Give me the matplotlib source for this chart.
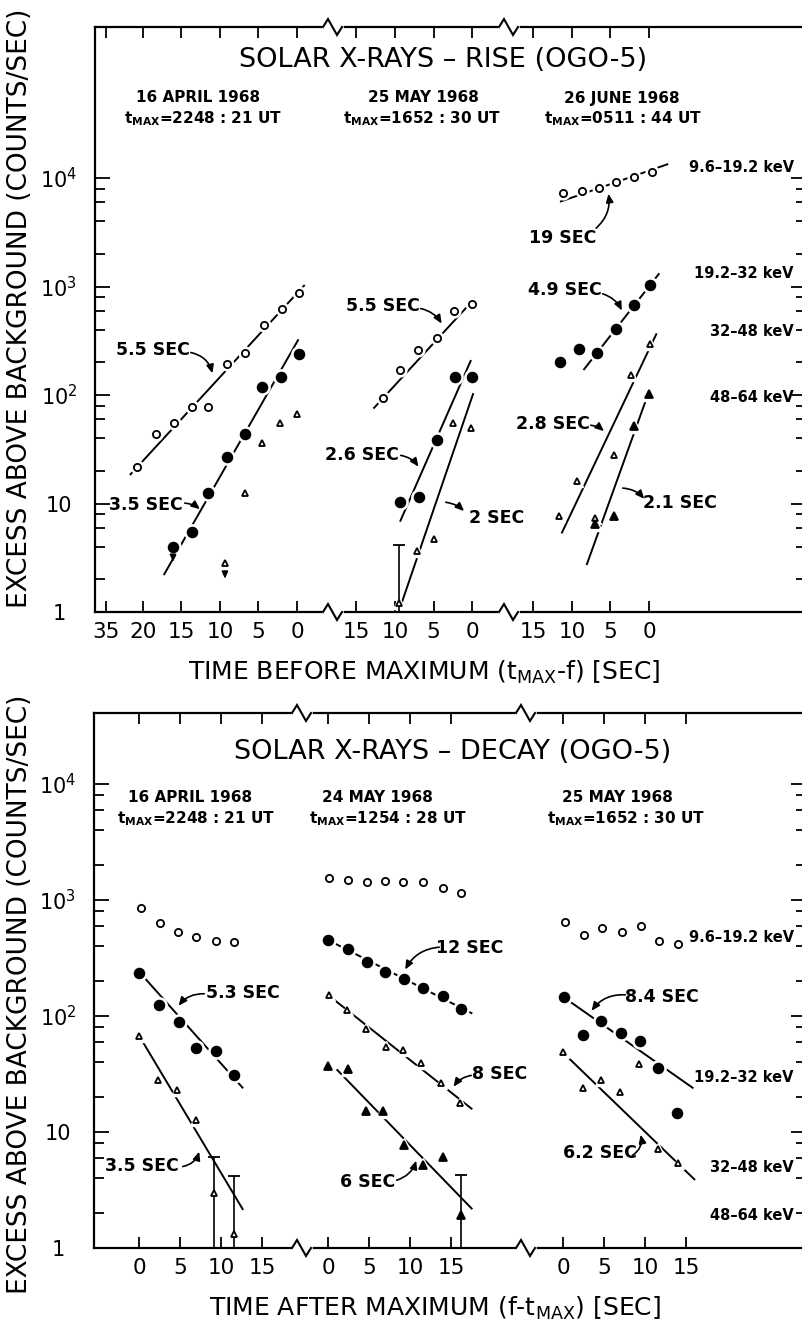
import matplotlib
matplotlib.use("Agg")
import matplotlib.pyplot as plt
from matplotlib.lines import Line2D
from matplotlib.patches import FancyArrowPatch
from matplotlib.ticker import FixedLocator, NullFormatter
from matplotlib.transforms import IdentityTransform, offset_copy

W, H = 803, 1327

# channel keys: c1 = 9.6-19.2 keV (open circle), c2 = 19.2-32 keV (filled circle),
#               c3 = 32-48 keV (open triangle), c4 = 48-64 keV (filled triangle)

# ---------------- RISE (t = seconds before maximum) ----------------
rise_apr16_c1_t = [20.8, 18.3, 16.0, 13.6, 11.5, 9.1, 6.7, 4.3, 2.0, -0.3]
rise_apr16_c1 = [21.6, 43.7, 55.6, 78, 78, 193, 242, 442, 621, 865]
rise_apr16_c2_t = [16.1, 13.6, 11.5, 9.1, 6.75, 4.5, 2.1, -0.2]
rise_apr16_c2 = [4.0, 5.5, 12.4, 27, 43.4, 119, 147, 239]
rise_apr16_c3_t = [9.35, 6.75, 4.5, 2.2, 0.0]
rise_apr16_c3 = [2.8, 12.6, 36.4, 54.8, 66.4]
rise_apr16_fit_c1_t = [21.7, -1.0]
rise_apr16_fit_c1 = [18.3, 1033]
rise_apr16_fit_c2_t = [17.3, -0.2]
rise_apr16_fit_c2 = [2.19, 326]

rise_may25_c1_t = [11.5, 9.35, 7.0, 4.6, 2.3, 0.0]
rise_may25_c1 = [94.5, 170, 260, 333, 595, 690]
rise_may25_c2_t = [9.3, 6.85, 4.6, 2.2, 0.0]
rise_may25_c2 = [10.4, 11.5, 38.5, 146, 147]
rise_may25_c3_t = [9.45, 7.2, 4.95, 2.5, 0.1]
rise_may25_c3 = [1.2, 3.67, 4.68, 54.8, 49.3]
rise_may25_err_t = [9.45]
rise_may25_err_hi = [4.15]
rise_may25_fit_c1_t = [12.8, -0.4]
rise_may25_fit_c1 = [75, 783]
rise_may25_fit_c2_t = [9.35, 0.13]
rise_may25_fit_c2 = [6.8, 210]
rise_may25_fit_c3_t = [9.45, -0.17]
rise_may25_fit_c3 = [1.04, 104]

rise_jun26_c1_t = [11.2, 8.75, 6.5, 4.3, 1.95, -0.35]
rise_jun26_c1 = [7320, 7540, 8040, 9250, 10150, 11290]
rise_jun26_c2_t = [11.55, 9.1, 6.7, 4.3, 1.95, -0.2]
rise_jun26_c2 = [203, 266, 245, 406, 675, 1032]
rise_jun26_c3_t = [11.65, 9.4, 7.0, 4.55, 2.35, -0.1]
rise_jun26_c3 = [7.7, 16.1, 7.3, 28, 153, 295]
rise_jun26_c4_t = [7.0, 4.55, 1.95, 0.0]
rise_jun26_c4 = [6.5, 7.7, 51.8, 102]
rise_jun26_fit_c1_t = [11.55, -2.5]
rise_jun26_fit_c1 = [6050, 13460]
rise_jun26_fit_c2_t = [8.5, -1.35]
rise_jun26_fit_c2 = [170, 1324]
rise_jun26_fit_c3_t = [11.35, -1.0]
rise_jun26_fit_c3 = [5.3, 370]
rise_jun26_fit_c4_t = [8.1, -0.15]
rise_jun26_fit_c4 = [2.71, 115]

# ---------------- DECAY (t = seconds after maximum) ----------------
decay_apr16_c1_t = [0.25, 2.5, 4.8, 6.95, 9.4, 11.6]
decay_apr16_c1 = [859, 637, 527, 477, 443, 437]
decay_apr16_c2_t = [0.05, 2.45, 4.9, 7.0, 9.35, 11.6]
decay_apr16_c2 = [233, 124, 89, 53, 50, 31]
decay_apr16_c3_t = [0.05, 2.3, 4.6, 6.95, 9.2, 11.6]
decay_apr16_c3 = [67, 28, 23, 12.7, 3.0, 1.32]
decay_apr16_err_t = [9.2, 11.6]
decay_apr16_err_hi = [6.05, 4.2]
decay_apr16_fit_c2_t = [0.73, 12.7]
decay_apr16_fit_c2 = [211, 23.8]
decay_apr16_fit_c3_t = [0.33, 12.7]
decay_apr16_fit_c3 = [62, 2.13]

decay_may24_c1_t = [0.15, 2.5, 4.8, 6.95, 9.2, 11.6, 14.0, 16.2]
decay_may24_c1 = [1557, 1487, 1421, 1459, 1421, 1421, 1277, 1142]
decay_may24_c2_t = [0.05, 2.5, 4.8, 6.95, 9.3, 11.6, 14.0, 16.2]
decay_may24_c2 = [452, 376, 294, 241, 208, 173, 149, 114]
decay_may24_c3_t = [0.15, 2.35, 4.65, 7.05, 9.2, 11.4, 13.8, 16.1]
decay_may24_c3 = [152, 113, 77, 54, 51, 39.6, 26.3, 17.7]
decay_may24_c4_t = [0.05, 2.5, 4.65, 6.75, 9.3, 11.6, 14.0, 16.2]
decay_may24_c4 = [37, 34.7, 15.3, 15.3, 7.7, 5.2, 6.1, 1.92]
decay_may24_err_t = [16.2]
decay_may24_err_hi = [4.26]
decay_may24_fit_c2_t = [0.0, 17.6]
decay_may24_fit_c2 = [452, 105]
decay_may24_fit_c3_t = [0.0, 17.6]
decay_may24_fit_c3 = [152, 15.7]
decay_may24_fit_c4_t = [1.05, 17.6]
decay_may24_fit_c4 = [34.7, 2.16]

decay_may25_c1_t = [0.25, 2.55, 4.7, 7.25, 9.5, 11.75, 14.05]
decay_may25_c1 = [650, 499, 570, 527, 597, 443, 418]
decay_may25_c2_t = [0.1, 2.5, 4.65, 7.05, 9.4, 11.6, 13.9]
decay_may25_c2 = [145, 68.6, 91, 71.8, 60.9, 35.4, 14.5]
decay_may25_c3_t = [0.0, 2.4, 4.6, 6.95, 9.3, 11.6, 14.05]
decay_may25_c3 = [49, 23.8, 28, 22.3, 38.6, 7.1, 5.4]
decay_may25_fit_c2_t = [0.85, 15.9]
decay_may25_fit_c2 = [133, 23.8]
decay_may25_fit_c3_t = [0.75, 16.1]
decay_may25_fit_c3 = [43, 3.86]

rise_ticks = [[24.8, 20, 15, 10, 5, 0], [15, 10, 5, 0], [15, 10, 5, 0]]
rise_ticklabels = [["35", "20", "15", "10", "5", "0"], ["15", "10", "5", "0"], ["15", "10", "5", "0"]]
decay_ticks = [[0, 5, 10, 15]] * 3
decay_ticklabels = [["0", "5", "10", "15"]] * 3

y_major = [1, 10, 100, 1e3, 1e4]
y_major_labels = ["1", "10", r"$10^2$", r"$10^3$", r"$10^4$"]
y_minor = [k * 10 ** d for d in range(4) for k in (2, 4, 6, 8)]

rise_events = [
    dict(series=[("c1", rise_apr16_c1_t, rise_apr16_c1), ("c2", rise_apr16_c2_t, rise_apr16_c2),
                 ("c3", rise_apr16_c3_t, rise_apr16_c3)],
         fits=[(rise_apr16_fit_c1_t, rise_apr16_fit_c1), (rise_apr16_fit_c2_t, rise_apr16_fit_c2)],
         limits=[("c2", 0), ("c3", 0)], errs=([], [])),
    dict(series=[("c1", rise_may25_c1_t, rise_may25_c1), ("c2", rise_may25_c2_t, rise_may25_c2),
                 ("c3", rise_may25_c3_t, rise_may25_c3)],
         fits=[(rise_may25_fit_c1_t, rise_may25_fit_c1), (rise_may25_fit_c2_t, rise_may25_fit_c2),
               (rise_may25_fit_c3_t, rise_may25_fit_c3)],
         limits=[], errs=(rise_may25_err_t, rise_may25_err_hi)),
    dict(series=[("c1", rise_jun26_c1_t, rise_jun26_c1), ("c2", rise_jun26_c2_t, rise_jun26_c2),
                 ("c3", rise_jun26_c3_t, rise_jun26_c3), ("c4", rise_jun26_c4_t, rise_jun26_c4)],
         fits=[(rise_jun26_fit_c1_t, rise_jun26_fit_c1), (rise_jun26_fit_c2_t, rise_jun26_fit_c2),
               (rise_jun26_fit_c3_t, rise_jun26_fit_c3), (rise_jun26_fit_c4_t, rise_jun26_fit_c4)],
         limits=[], errs=([], [])),
]
decay_events = [
    dict(series=[("c1", decay_apr16_c1_t, decay_apr16_c1), ("c2", decay_apr16_c2_t, decay_apr16_c2),
                 ("c3", decay_apr16_c3_t, decay_apr16_c3)],
         fits=[(decay_apr16_fit_c2_t, decay_apr16_fit_c2), (decay_apr16_fit_c3_t, decay_apr16_fit_c3)],
         limits=[], errs=(decay_apr16_err_t, decay_apr16_err_hi)),
    dict(series=[("c1", decay_may24_c1_t, decay_may24_c1), ("c2", decay_may24_c2_t, decay_may24_c2),
                 ("c3", decay_may24_c3_t, decay_may24_c3), ("c4", decay_may24_c4_t, decay_may24_c4)],
         fits=[(decay_may24_fit_c2_t, decay_may24_fit_c2), (decay_may24_fit_c3_t, decay_may24_fit_c3),
               (decay_may24_fit_c4_t, decay_may24_fit_c4)],
         limits=[], errs=(decay_may24_err_t, decay_may24_err_hi)),
    dict(series=[("c1", decay_may25_c1_t, decay_may25_c1), ("c2", decay_may25_c2_t, decay_may25_c2),
                 ("c3", decay_may25_c3_t, decay_may25_c3)],
         fits=[(decay_may25_fit_c2_t, decay_may25_fit_c2), (decay_may25_fit_c3_t, decay_may25_fit_c3)],
         limits=[], errs=([], [])),
]

MARK = {
    "c1": dict(marker="o", ms=5.2, mfc="white"),
    "c2": dict(marker="o", ms=7.0, mfc="black"),
    "c3": dict(marker="^", ms=5.0, mfc="white"),
    "c4": dict(marker="^", ms=6.2, mfc="black"),
}

plt.rcParams["font.family"] = "DejaVu Sans"
plt.rcParams["mathtext.fontset"] = "dejavusans"

fig = plt.figure(figsize=(W / 100, H / 100), dpi=100)
fig.patch.set_facecolor("white")
IDT = IdentityTransform()


def ftext(x, y, s, **kw):
    fig.text(x / W, 1 - y / H, s, **kw)


def draw_break(x, y):
    fig.add_artist(Line2D([x - 8, x + 8], [H - y, H - y], color="white", lw=4,
                          transform=IDT, zorder=20))
    fig.add_artist(Line2D([x - 10, x - 5, x + 4, x + 9], [H - y, H - y + 8, H - y - 8, H - y],
                          color="black", lw=1.5, transform=IDT, zorder=21,
                          solid_joinstyle="miter"))


def arrow(a, b, rad):
    fig.add_artist(FancyArrowPatch((a[0], H - a[1]), (b[0], H - b[1]), transform=IDT,
                                   connectionstyle=f"arc3,rad={rad}",
                                   arrowstyle="-|>,head_length=0.5,head_width=0.22",
                                   mutation_scale=10, lw=1.2, color="black", zorder=15))


def build_panel(top, bottom, seg_px, seg_lims, ymax, ticks, ticklabels, events):
    axes = []
    n = len(seg_px)
    for i, ((x0, x1), lim) in enumerate(zip(seg_px, seg_lims)):
        ax = fig.add_axes([x0 / W, 1 - bottom / H, (x1 - x0) / W, (bottom - top) / H])
        ax.set_yscale("log")
        ax.set_ylim(1, ymax)
        ax.set_xlim(*lim)
        ax.patch.set_alpha(0)
        for s in ax.spines.values():
            s.set_linewidth(1.6)
        ax.spines["left"].set_visible(i == 0)
        ax.spines["right"].set_visible(i == n - 1)
        ax.set_xticks(ticks[i])
        ax.set_xticklabels(ticklabels[i])
        ax.tick_params(axis="x", which="major", direction="in", top=True, bottom=True,
                       length=8, width=1.3, labelsize=15.5, pad=7)
        ax.yaxis.set_major_locator(FixedLocator(y_major))
        ax.yaxis.set_minor_locator(FixedLocator(y_minor))
        ax.yaxis.set_minor_formatter(NullFormatter())
        if i == 0:
            ax.set_yticks(y_major, labels=y_major_labels)
            ax.tick_params(axis="y", which="both", direction="in", left=True, right=False,
                           labelleft=True, width=1.3)
            ax.tick_params(axis="y", which="major", length=11, labelsize=15, pad=26)
            ax.tick_params(axis="y", which="minor", length=7)
            for lbl in ax.get_yticklabels():
                lbl.set_ha("center")
        else:
            ax.tick_params(axis="y", which="both", direction="in", left=False,
                           right=(i == n - 1), labelleft=False, width=1.3)
            ax.tick_params(axis="y", which="major", length=11)
            ax.tick_params(axis="y", which="minor", length=7)

        ev = events[i]
        for ft, fv in ev["fits"]:
            ax.plot(ft, fv, color="black", lw=1.4, zorder=2, solid_capstyle="butt")
        for key, t, v in ev["series"]:
            st = MARK[key]
            ax.plot(t, v, ls="none", marker=st["marker"], ms=st["ms"] + 4, mfc="white",
                    mec="white", zorder=3)
        for et, eh in zip(*ev["errs"]):
            ax.vlines(et, 1, eh, color="black", lw=1.2, zorder=4)
            ax.plot([et], [eh], marker="_", ms=8, mew=1.3, color="black", zorder=4)
        for key, t, v in ev["series"]:
            st = MARK[key]
            ax.plot(t, v, ls="none", marker=st["marker"], ms=st["ms"], mfc=st["mfc"],
                    mec="black", mew=1.3, zorder=5)
        lookup = {k: (t, v) for k, t, v in ev["series"]}
        for key, idx in ev["limits"]:
            t, v = lookup[key][0][idx], lookup[key][1][idx]
            ax.annotate("", xy=(t, v), xycoords=offset_copy(ax.transData, fig, y=-18, units="dots"),
                        xytext=(t, v), textcoords=offset_copy(ax.transData, fig, y=-5, units="dots"),
                        arrowprops=dict(arrowstyle="-|>,head_length=0.4,head_width=0.18",
                                        color="black", lw=1.2, mutation_scale=10))
        axes.append(ax)
    return axes


# ---- top panel: rise ----
build_panel(27, 612, [(95, 333), (333, 509), (509, 806)],
            [(26.23, -4.68), (18.05, -4.8), (18.18, -20.4)], 10 ** 5.392,
            rise_ticks, rise_ticklabels, rise_events)
# ---- bottom panel: decay ----
build_panel(713, 1248, [(94, 302), (302, 526), (526, 806)],
            [(-5.49, 19.88), (-3.17, 24.15), (-4.51, 29.63)], 10 ** 4.612,
            decay_ticks, decay_ticklabels, decay_events)

for bx in (333, 509):
    draw_break(bx, 27)
    draw_break(bx, 612)
for bx in (302, 526):
    draw_break(bx, 713)
    draw_break(bx, 1248)

# titles and event headers
ftext(443, 60, "SOLAR X-RAYS \u2013 RISE (OGO-5)", fontsize=19.5, ha="center", va="center")
ftext(453, 752, "SOLAR X-RAYS \u2013 DECAY (OGO-5)", fontsize=19.5, ha="center", va="center")

hdr = dict(fontsize=11, fontweight="bold", ha="center", va="center")
ftext(198, 98, "16 APRIL 1968", **hdr)
ftext(203, 119, r"$\mathbf{t_{MAX}}$=2248 : 21 UT", **hdr)
ftext(423, 98, "25 MAY 1968", **hdr)
ftext(422, 119, r"$\mathbf{t_{MAX}}$=1652 : 30 UT", **hdr)
ftext(622, 98, "26 JUNE 1968", **hdr)
ftext(623, 119, r"$\mathbf{t_{MAX}}$=0511 : 44 UT", **hdr)

ftext(190, 797, "16 APRIL 1968", **hdr)
ftext(196, 819, r"$\mathbf{t_{MAX}}$=2248 : 21 UT", **hdr)
ftext(377, 797, "24 MAY 1968", **hdr)
ftext(388, 819, r"$\mathbf{t_{MAX}}$=1254 : 28 UT", **hdr)
ftext(617, 797, "25 MAY 1968", **hdr)
ftext(626, 819, r"$\mathbf{t_{MAX}}$=1652 : 30 UT", **hdr)

# energy channel labels
ek = dict(fontsize=10.5, fontweight="bold", ha="right", va="center")
for y, s in [(168, "9.6\u201319.2 keV"), (273, "19.2\u201332 keV"), (332, "32\u201348 keV"),
             (397, "48\u201364 keV"), (937, "9.6\u201319.2 keV"), (1077, "19.2\u201332 keV"),
             (1168, "32\u201348 keV"), (1215, "48\u201364 keV")]:
    ftext(794, y, s, **ek)

# e-folding time labels with arrows
sec = dict(fontsize=12.5, fontweight="bold", ha="center", va="center")
labels = [
    ("5.5 SEC", (153, 350), (188, 352), (213, 376), -0.35),
    ("3.5 SEC", (146, 505), (182, 503), (202, 511), -0.2),
    ("5.5 SEC", (383, 306), (418, 308), (443, 326), -0.25),
    ("2.6 SEC", (362, 455), (398, 455), (420, 469), -0.25),
    ("2 SEC", (497, 518), (443, 502), (466, 513), -0.2),
    ("19 SEC", (563, 238), (594, 230), (608, 191), 0.3),
    ("4.9 SEC", (565, 290), (600, 293), (623, 313), -0.25),
    ("2.8 SEC", (553, 424), (588, 425), (606, 433), -0.2),
    ("2.1 SEC", (680, 503), (620, 488), (646, 501), -0.25),
    ("5.3 SEC", (243, 993), (207, 994), (177, 1008), 0.3),
    ("3.5 SEC", (142, 1166), (180, 1167), (200, 1149), 0.35),
    ("12 SEC", (470, 948), (442, 947), (404, 972), 0.3),
    ("8 SEC", (500, 1074), (474, 1075), (452, 1089), 0.25),
    ("6 SEC", (368, 1182), (394, 1181), (417, 1158), 0.3),
    ("8.4 SEC", (662, 997), (628, 995), (590, 1013), 0.3),
    ("6.2 SEC", (600, 1153), (630, 1157), (640, 1132), 0.4),
]
for s, pos, a, b, rad in labels:
    ftext(pos[0], pos[1], s, **sec)
    arrow(a, b, rad)

# axis titles
ylab = dict(fontsize=19, rotation=90, ha="center", va="center")
ftext(20, 308, "EXCESS ABOVE BACKGROUND (COUNTS/SEC)", **ylab)
ftext(20, 994, "EXCESS ABOVE BACKGROUND (COUNTS/SEC)", **ylab)
ftext(424, 672, r"TIME BEFORE MAXIMUM (t$_{\mathregular{MAX}}$-f) [SEC]", fontsize=18,
      ha="center", va="center")
ftext(435, 1308, r"TIME AFTER MAXIMUM (f-t$_{\mathregular{MAX}}$) [SEC]", fontsize=18,
      ha="center", va="center")

fig.savefig("out.png", dpi=100, facecolor="white")
